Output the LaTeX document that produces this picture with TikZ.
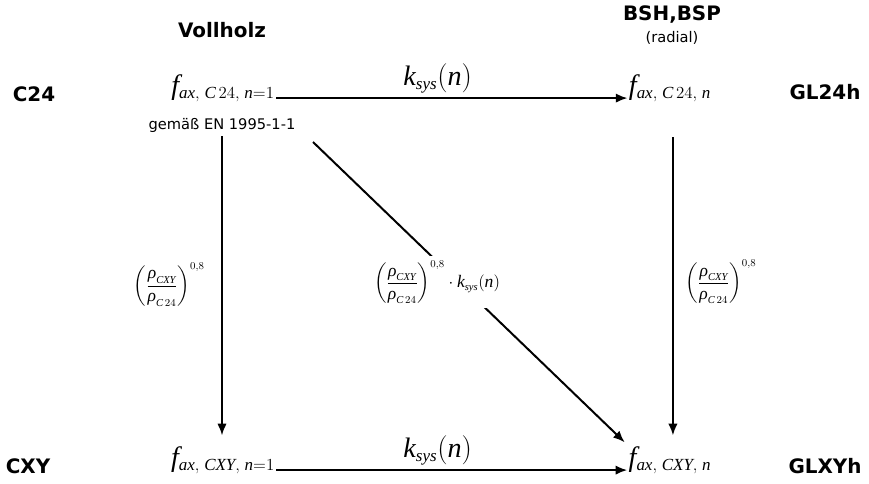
\documentclass[tikz,border=0pt]{standalone}
\usepackage{amsmath}
\usepackage{fontspec}
\setmainfont{DejaVu Sans}
\setmathrm{Liberation Serif}
\newfontfamily\tms{Liberation Serif}
\DeclareMathSizes{24}{24}{14.5}{11}
\DeclareMathSizes{15}{15}{9}{7}
\usetikzlibrary{positioning, arrows.meta}

% Formelteile
\newcommand{\vrho}{\text{\tms\itshape ρ}}
\newcommand{\ksys}{\mathit{k}_{\mathit{sys}}(\mathit{n})}
\newcommand{\rhoq}{\left(\dfrac{\vrho_{\mathit{CXY}}}{\vrho_{\mathit{C}\,24}}\right)^{0{,}8}}

\tikzset{
  grp/.style={font=\fontsize{17}{20}\selectfont\bfseries},
  note/.style={font=\fontsize{12.5}{15}\selectfont},
  fval/.style={font=\fontsize{24}{28}\selectfont, inner sep=1pt, anchor=base},
  lbl/.style={font=\fontsize{24}{28}\selectfont, inner sep=1pt},
  frac/.style={font=\fontsize{15}{18}\selectfont, inner sep=1pt},
  arr/.style={->, line width=1.7pt}
}

\begin{document}
\begin{tikzpicture}[x=0.3mm, y=-0.3mm, >={Latex[length=10pt, width=8pt]}]

    \useasboundingbox (0,0) rectangle (869,483);

    % ==========================================
    % 1. Ueberschriften und Klassen
    % ==========================================
    \node[grp] (vollholz) at (222,30) {Vollholz};
    \node[grp] (bsh) at (672,15) {BSH,BSP};
    \node[note] (radial) at (672,38) {(radial)};

    \node[grp] (c24) at (34,94) {C24};
    \node[grp] (gl24h) at (825,92) {GL24h};
    \node[grp] (cxy) at (28,466) {CXY};
    \node[grp] (glxyh) at (825,466) {GLXYh};

    % ==========================================
    % 2. Festigkeitswerte
    % ==========================================
    \node[fval] (fc24n1) at (223,94) {$\mathit{f}_{\mathit{ax},\;\mathit{C}\,24,\;\mathit{n}=1}$};
    \node[note] (gem) at (222,125) {gemäß EN 1995-1-1};
    \node[fval] (fc24n) at (670,94) {$\mathit{f}_{\mathit{ax},\;\mathit{C}\,24,\;\mathit{n}}$};
    \node[fval] (fcxyn1) at (223,466) {$\mathit{f}_{\mathit{ax},\;\mathit{CXY},\;\mathit{n}=1}$};
    \node[fval] (fcxyn) at (670,466) {$\mathit{f}_{\mathit{ax},\;\mathit{CXY},\;\mathit{n}}$};

    % ==========================================
    % 3. Pfeile
    % ==========================================
    % waagrecht: Systemfaktor
    \draw[arr] ([yshift=-3.5pt]fc24n1.base east) -- node[lbl, above=2pt, pos=0.46] {$\ksys$}
        ([yshift=-3.5pt]fc24n.base west);
    \draw[arr] ([yshift=-3.5pt]fcxyn1.base east) -- node[lbl, above=2pt, pos=0.46] {$\ksys$}
        ([yshift=-3.5pt]fcxyn.base west);

    % senkrecht: Rohdichte
    \draw[arr, shorten >=8pt] (gem.south) -- node[frac, left=13pt, pos=0.48] {$\rhoq$}
        (gem.south |- fcxyn1.north);
    \draw[arr, shorten >=8pt] ([xshift=2.5pt, yshift=-29pt]fc24n.south) -- node[frac, right=9pt, pos=0.47] {$\rhoq$}
        ([xshift=2.5pt]fcxyn.north);

    % diagonal: beides
    \coordinate (dstart) at (313,142);
    \draw[arr, shorten >=3pt] (dstart) -- (fcxyn.north west);
    \node[frac, fill=white, inner sep=4pt] (diag) at (437,282) {$\rhoq\cdot\ksys$};

\end{tikzpicture}
\end{document}
